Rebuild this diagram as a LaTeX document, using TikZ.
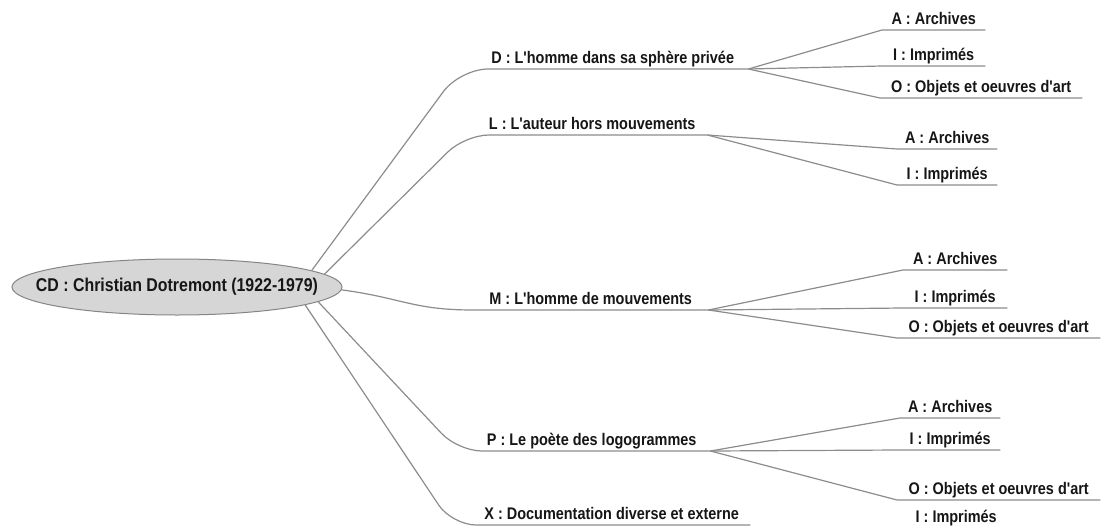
\documentclass[tikz,border=0pt]{standalone}
\usepackage{fontspec}
\setmainfont{Liberation Sans}[FakeStretch=0.86,Ligatures=TeXOff]
\usetikzlibrary{shapes.geometric,calc,backgrounds}
\definecolor{linegray}{HTML}{8C8C8C}
\definecolor{txt}{HTML}{161616}
\definecolor{ellfill}{HTML}{D6D6D6}
\definecolor{ellline}{HTML}{858585}
\begin{document}
\begin{tikzpicture}[x=1pt,y=-1pt,
  conn/.style={draw=linegray, line width=1.2pt},
  lab/.style={font=\fontsize{16.8}{18}\selectfont\bfseries, text=txt,
    inner xsep=0pt, inner ysep=3.5pt, text height=12pt, text depth=2pt,
    anchor=south west},
  root/.style={ellipse, draw=ellline, fill=ellfill, line width=1pt,
    minimum width=330pt, minimum height=56pt, inner sep=0pt,
    font=\fontsize{18.5}{20}\selectfont\bfseries, text=txt}]
\useasboundingbox (0,0) rectangle (1102,527);

\node[root] (cd) at (177,287) {\makebox[0pt]{CD : Christian Dotremont (1922-1979)}};

% branches
\node[lab, minimum width=271pt] (D) at (477,69)  {D : L'homme dans sa sphère privée};
\node[lab, minimum width=230pt] (L) at (477,135) {L : L'auteur hors mouvements};
\node[lab, minimum width=235pt] (M) at (473,310) {M : L'homme de mouvements};
\node[lab, minimum width=237pt] (P) at (473,451) {P : Le poète des logogrammes};
\node[lab, minimum width=277pt] (X) at (473,525) {X : Documentation diverse et externe};

% leaves
\node[lab, minimum width=103pt] (DA) at (882,30)  {A : Archives};
\node[lab, minimum width=103pt] (DI) at (882,66)  {I : Imprimés};
\node[lab, minimum width=202pt] (DO) at (880,98)  {O : Objets et oeuvres d'art};
\node[lab, minimum width=100pt] (LA) at (897,149) {A : Archives};
\node[lab, minimum width=100pt] (LI) at (897,185) {I : Imprimés};
\node[lab, minimum width=104pt] (MA) at (903,270) {A : Archives};
\node[lab, minimum width=104pt] (MI) at (903,308) {I : Imprimés};
\node[lab, minimum width=203pt] (MO) at (897,338) {O : Objets et oeuvres d'art};
\node[lab, minimum width=100pt] (PA) at (900,418) {A : Archives};
\node[lab, minimum width=100pt] (PI) at (900,450) {I : Imprimés};
\node[lab, minimum width=203pt] (PO) at (897,500) {O : Objets et oeuvres d'art};
\node[lab, minimum width=102pt] (XI) at (905,528) {I : Imprimés};

\begin{scope}[on background layer]
\draw[conn, rounded corners=28pt] (cd.7) -- ($(D.south west)+(-17,0)$) -- (D.south east);
\draw[conn, rounded corners=24pt] (cd.5) -- ($(L.south west)+(-12,0)$) -- (L.south east);
\draw[conn] (cd.-1) .. controls +(60,8) and +(-60,0) .. (M.south west) -- (M.south east);
\draw[conn, rounded corners=24pt] (cd.-6) -- ($(P.south west)+(-15,0)$) -- (P.south east);
\draw[conn, rounded corners=24pt] (cd.-8) -- ($(X.south west)+(-21,0)$) -- (X.south east);
\foreach \c in {DA,DI,DO} \draw[conn] (D.south east) -- (\c.south west) -- (\c.south east);
\foreach \c in {LA,LI} \draw[conn] (L.south east) -- (\c.south west) -- (\c.south east);
\foreach \c in {MA,MI,MO} \draw[conn] (M.south east) -- (\c.south west) -- (\c.south east);
\foreach \c in {PA,PI,PO} \draw[conn] (P.south east) -- (\c.south west) -- (\c.south east);
\end{scope}
\end{tikzpicture}
\end{document}
